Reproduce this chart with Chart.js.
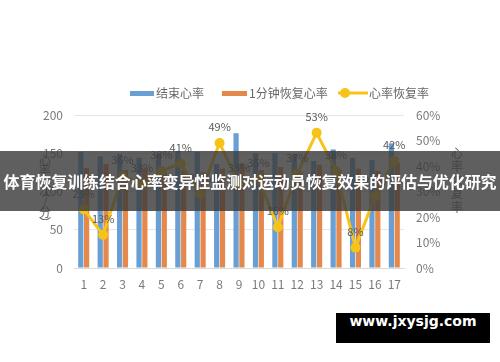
<!DOCTYPE html>
<html>
<head>
<meta charset="utf-8">
<script src="https://cdn.jsdelivr.net/npm/chart.js@4"></script>
<style>
    html, body { margin: 0; padding: 0; background: #fff; }
    #wrap { position: relative; width: 500px; height: 362px; }
    #banner {
        position: absolute; left: 0; top: 151px; width: 500px; height: 60px;
        background: rgba(60, 60, 60, 0.82); color: #fff;
        font: bold 16px "Noto Sans CJK SC", sans-serif;
        line-height: 60px; text-align: center; white-space: nowrap; letter-spacing: -0.1px;
    }
    #mark {
        position: absolute; left: 336px; top: 313px; width: 154px; height: 30px;
        background: #000; color: #fff; text-align: center; line-height: 30px;
        font: bold 14px "DejaVu Sans", sans-serif;
    }
</style>
</head>
<body>
<div id="wrap">
    <canvas id="hrChart" width="500" height="362"></canvas>
    <div id="banner">体育恢复训练结合心率变异性监测对运动员恢复效果的评估与优化研究</div>
    <div id="mark">www.jxysjg.com</div>
</div>
<script>
// 数据
const categories = ['1','2','3','4','5','6','7','8','9','10','11','12','13','14','15','16','17'];
const endHR = [152, 146, 149, 144, 150, 153, 152, 136, 176, 150, 150, 148, 140, 155, 144, 141, 163];
const oneMinHR = [131, 136, 128, 130, 125, 128, 125, 130, 137, 128, 132, 125, 135, 128, 130, 127, 138];
const recoveryRate = [23, 13, 36, 33, 38, 41, 29, 49, 33, 35, 16, 37, 53, 38, 8, 28, 42];
const leftTicks = [0, 50, 100, 150, 200];
const rightTicks = [0, 10, 20, 30, 40, 50, 60];

const seriesNames = ['结束心率', '1分钟恢复心率', '心率恢复率'];
const colors = ['#6A9FD3', '#E5884C', '#F6C319'];
const fontFamily = '"Noto Sans CJK SC", sans-serif';
const textColor = '#7a7a7a';

// 图例、标签、坐标轴标题
const extrasPlugin = {
    id: 'extras',
    afterDraw(chart) {
        const c = chart.ctx;
        c.save();
        // 图例
        c.font = '12px ' + fontFamily;
        c.textBaseline = 'middle';
        c.fillStyle = colors[0];
        c.fillRect(130, 91, 24, 5);
        c.fillStyle = colors[1];
        c.fillRect(222, 91, 25, 5);
        c.strokeStyle = colors[2];
        c.lineWidth = 3;
        c.beginPath(); c.moveTo(338, 93); c.lineTo(368, 93); c.stroke();
        c.fillStyle = colors[2];
        c.beginPath(); c.arc(345, 93, 5, 0, Math.PI * 2); c.fill();
        c.fillStyle = '#666';
        c.textAlign = 'left';
        c.fillText(seriesNames[0], 156, 93);
        c.fillText(seriesNames[1], 249, 93);
        c.fillText(seriesNames[2], 369, 93);

        // 百分比标签（折线数据集）
        const meta = chart.getDatasetMeta(0);
        c.font = '11px ' + fontFamily;
        c.fillStyle = '#595959';
        c.textAlign = 'center';
        meta.data.forEach((pt, i) => {
            c.fillText(recoveryRate[i] + '%', pt.x, pt.y - 16);
        });

        // 坐标轴标题（竖排）
        c.font = '12px ' + fontFamily;
        c.fillStyle = '#666';
        const leftTitle = ['心', '率', '︵', '次', '/', '分', '︶'];
        leftTitle.forEach((ch, i) => c.fillText(ch, 45, 160 + i * 10.5));
        const rightTitle = ['心', '率', '恢', '复', '率'];
        rightTitle.forEach((ch, i) => c.fillText(ch, 457, 153 + i * 13.5));
        c.restore();
    }
};

new Chart(document.getElementById('hrChart'), {
    data: {
        labels: categories,
        datasets: [
            {
                type: 'line',
                label: seriesNames[2],
                data: recoveryRate,
                yAxisID: 'y1',
                borderColor: colors[2],
                backgroundColor: colors[2],
                borderWidth: 3,
                pointRadius: 5,
                pointBorderWidth: 0,
                tension: 0,
                order: 0
            },
            {
                type: 'bar',
                label: seriesNames[0],
                data: endHR,
                yAxisID: 'y',
                backgroundColor: colors[0],
                categoryPercentage: 0.6,
                barPercentage: 0.9,
                order: 1
            },
            {
                type: 'bar',
                label: seriesNames[1],
                data: oneMinHR,
                yAxisID: 'y',
                backgroundColor: colors[1],
                categoryPercentage: 0.6,
                barPercentage: 0.9,
                order: 1
            }
        ]
    },
    options: {
        responsive: false,
        animation: false,
        layout: { padding: { top: 115, bottom: 70, left: 0, right: 0 } },
        plugins: {
            legend: { display: false },
            tooltip: { enabled: false }
        },
        scales: {
            x: {
                grid: { display: false, drawTicks: false },
                border: { color: '#d9d9d9' },
                ticks: { color: textColor, padding: 9, font: { family: fontFamily, size: 12 } },
                afterFit: s => { s.height = 24; }
            },
            y: {
                position: 'left',
                min: 0, max: 200,
                afterBuildTicks: s => { s.ticks = leftTicks.map(v => ({ value: v })); },
                grid: { color: '#e6e6e6', drawTicks: false },
                border: { display: false },
                ticks: { color: textColor, padding: 11, font: { family: fontFamily, size: 12 } },
                afterFit: s => { s.width = 74; }
            },
            y1: {
                position: 'right',
                min: 0, max: 60,
                afterBuildTicks: s => { s.ticks = rightTicks.map(v => ({ value: v })); },
                grid: { display: false, drawTicks: false },
                border: { display: false },
                ticks: {
                    color: textColor, padding: 12, font: { family: fontFamily, size: 12 },
                    callback: v => v + '%'
                },
                afterFit: s => { s.width = 96; }
            }
        }
    },
    plugins: [extrasPlugin]
});
</script>
</body>
</html>
